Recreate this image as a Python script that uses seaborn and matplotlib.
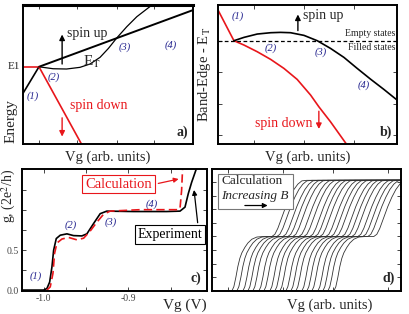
import numpy as np
import pandas as pd
import matplotlib
matplotlib.use("Agg")
from matplotlib import pyplot as plt
from matplotlib.patches import Rectangle
import seaborn as sns

# ---------------- panel a: energy vs Vg (arb. units) ----------------
a_e1_x = [0.0, 0.94]
a_e1_y = [5.56, 5.56]
a_low_x = [0.0, 0.94]
a_low_y = [3.65, 5.56]
a_up_x = [0.94, 10.0]
a_up_y = [5.56, 9.64]
a_down_x = [0.94, 3.44]
a_down_y = [5.56, 0.0]
a_et_x = [0.94, 1.77, 2.56, 3.35, 3.94, 4.53, 5.02, 5.51, 6.10, 6.69, 7.58]
a_et_y = [5.56, 5.42, 5.40, 5.52, 5.76, 6.24, 6.88, 7.63, 8.44, 9.16, 10.0]

# ---------------- panel b: band edge - E_T ----------------
b_down_x = [0.0, 0.89, 1.45, 2.19, 2.94, 3.68, 4.42, 5.17, 5.63, 6.28, 7.21]
b_down_y = [0.92, 0.0, -0.13, -0.33, -0.56, -0.83, -1.16, -1.63, -1.98, -2.43, -3.13]
b_up_x = [0.89, 1.45, 2.19, 2.94, 3.49, 4.05, 4.80, 5.54, 6.28, 7.03, 7.77, 8.51, 9.26, 10.0]
b_up_y = [0.0, 0.10, 0.20, 0.24, 0.25, 0.24, 0.16, 0.0, -0.23, -0.50, -0.83, -1.15, -1.46, -1.78]

# ---------------- panel c: conductance vs Vg (V) ----------------
c_exp_vg = [-1.0255, -1.0, -0.9961, -0.9929, -0.9902, -0.9882, -0.9851, -0.9804,
            -0.9725, -0.9647, -0.9549, -0.9490, -0.9412, -0.9333, -0.9255, -0.8941,
            -0.8549, -0.8392, -0.8333, -0.8294, -0.8255, -0.8196]
c_exp_g = [0.0, 0.0, 0.02, 0.10, 0.29, 0.50, 0.646, 0.688, 0.705, 0.683, 0.679,
           0.705, 0.833, 0.958, 0.99, 0.985, 0.985, 0.99, 1.04, 1.21, 1.35, 1.53]
c_calc_vg = [-0.9961, -0.9922, -0.9890, -0.9871, -0.9843, -0.9784, -0.9706, -0.9608,
             -0.9529, -0.9451, -0.9373, -0.9294, -0.9216, -0.8863, -0.8431, -0.8392,
             -0.8373, -0.8361]
c_calc_g = [0.0, 0.04, 0.21, 0.46, 0.59, 0.64, 0.66, 0.63, 0.65, 0.74, 0.85, 0.95,
            0.99, 1.008, 1.008, 1.02, 1.25, 1.53]

# ---------------- panel d: calculated traces for increasing B ----------------
d_base_x = [0, 20, 22, 24, 26, 28, 30, 33, 36, 40, 45, 52, 60, 63, 66, 70, 74, 78,
            82, 86, 90, 95, 300]
d_base_g = [0.0, 0.0, 0.08, 0.25, 0.45, 0.6, 0.7, 0.8, 0.88, 0.95, 0.99, 1.0, 1.0,
            1.04, 1.15, 1.35, 1.55, 1.72, 1.86, 1.96, 2.02, 2.03, 2.03]
d_shift = [0, 5, 11, 16, 21, 27, 32, 38, 43, 48, 54, 59, 64, 70, 75, 80, 86, 91, 96, 102]

label_blue = "#23238e"
red = "#e8161b"

sns.set_style("ticks")
plt.rcParams["font.family"] = ["Liberation Serif", "DejaVu Serif"]
plt.rcParams["mathtext.fontset"] = "stix"
plt.rcParams["xtick.direction"] = "in"
plt.rcParams["ytick.direction"] = "in"

fig = plt.figure(figsize=(4.09, 3.14), dpi=100)
ax_a = fig.add_axes([0.0562, 0.541, 0.416, 0.443])
ax_b = fig.add_axes([0.533, 0.541, 0.438, 0.443])
ax_c = fig.add_axes([0.0538, 0.0732, 0.452, 0.389])
ax_d = fig.add_axes([0.518, 0.0732, 0.462, 0.389])

for ax in (ax_a, ax_b, ax_c, ax_d):
    for s in ax.spines.values():
        s.set_linewidth(1.4)
        s.set_color("black")
    ax.tick_params(length=3, width=0.6, top=True, right=True, labelsize=7)

# ---- a ----
sns.lineplot(x=a_e1_x, y=a_e1_y, ax=ax_a, color=red, lw=1.2, sort=False)
sns.lineplot(x=a_low_x, y=a_low_y, ax=ax_a, color="black", lw=1.2, sort=False)
sns.lineplot(x=a_up_x, y=a_up_y, ax=ax_a, color="black", lw=1.4, sort=False)
sns.lineplot(x=a_down_x, y=a_down_y, ax=ax_a, color=red, lw=1.2, sort=False)
sns.lineplot(x=a_et_x, y=a_et_y, ax=ax_a, color="black", lw=0.9, sort=False)
ax_a.set_xlim(0, 10)
ax_a.set_ylim(0, 10)
ax_a.set_xticks([0.94, 3.2, 5.5, 7.7])
ax_a.set_yticks([])
ax_a.set_xticklabels([])
ax_a.spines["top"].set_linewidth(2.2)
ax_a.annotate("", xy=(2.3, 8.08), xytext=(2.3, 5.56),
              arrowprops=dict(arrowstyle="-|>", color="black", lw=1.0, mutation_scale=8))
ax_a.annotate("", xy=(2.3, 0.34), xytext=(2.3, 2.09),
              arrowprops=dict(arrowstyle="-|>", color=red, lw=1.0, mutation_scale=8))
ax_a.text(2.56, 7.96, "spin up", fontsize=10, va="center")
ax_a.text(3.54, 5.9, r"E$_{\rm T}$", fontsize=11, va="center")
ax_a.text(2.76, 2.81, "spin down", fontsize=10, va="center", color=red)
for txt, x, y in [("(1)", 0.59, 3.41), ("(2)", 1.81, 4.84), ("(3)", 6.0, 7.0), ("(4)", 8.66, 7.12)]:
    ax_a.text(x, y, txt, fontsize=7.5, style="italic", color=label_blue, ha="center", va="center")
ax_a.text(0.97, 0.04, "a)", transform=ax_a.transAxes, fontsize=10, weight="bold", ha="right", va="bottom")
ax_a.text(-0.02, 5.56, "E1", transform=ax_a.get_yaxis_transform(), fontsize=8, ha="right", va="center")
ax_a.set_xlabel("Vg (arb. units)", fontsize=10.5, labelpad=1)
fig.text(0.028, 0.545, "Energy", rotation=90, fontsize=11, ha="center", va="bottom")

# ---- b ----
sns.lineplot(x=b_down_x, y=b_down_y, ax=ax_b, color=red, lw=1.2, sort=False)
sns.lineplot(x=b_up_x, y=b_up_y, ax=ax_b, color="black", lw=1.2, sort=False)
ax_b.axhline(0, color="black", lw=0.9, ls=(0, (3, 2)))
ax_b.set_xlim(0, 10)
ax_b.set_ylim(-3.10, 1.07)
ax_b.set_xticks([2.0, 4.8, 7.6])
ax_b.set_yticks([-2.83, -1.9, -0.93, 0.0])
ax_b.set_xticklabels([])
ax_b.set_yticklabels([])
ax_b.annotate("", xy=(4.46, 0.87), xytext=(4.46, 0.22),
              arrowprops=dict(arrowstyle="-|>", color="black", lw=1.0, mutation_scale=8))
ax_b.annotate("", xy=(5.63, -2.73), xytext=(5.63, -2.03),
              arrowprops=dict(arrowstyle="-|>", color=red, lw=1.0, mutation_scale=8))
ax_b.text(4.76, 0.77, "spin up", fontsize=10, va="center")
ax_b.text(5.26, -2.48, "spin down", fontsize=10, va="center", ha="right", color=red)
ax_b.text(9.91, 0.22, "Empty states", fontsize=7, ha="right", va="center")
ax_b.text(9.91, -0.21, "Filled states", fontsize=7, ha="right", va="center")
for txt, x, y in [("(1)", 1.08, 0.74), ("(2)", 2.94, -0.23), ("(3)", 5.72, -0.33), ("(4)", 8.14, -1.33)]:
    ax_b.text(x, y, txt, fontsize=7.5, style="italic", color=label_blue, ha="center", va="center")
ax_b.text(0.97, 0.04, "b)", transform=ax_b.transAxes, fontsize=10, weight="bold", ha="right", va="bottom")
ax_b.set_xlabel("Vg (arb. units)", fontsize=10.5, labelpad=1)
ax_b.set_ylabel(r"Band-Edge - E$_{\rm T}$", fontsize=10.5, labelpad=0)

# ---- c ----
sns.lineplot(x=c_exp_vg, y=c_exp_g, ax=ax_c, color="black", lw=1.2, sort=False)
sns.lineplot(x=c_calc_vg, y=c_calc_g, ax=ax_c, color=red, lw=1.2, sort=False, dashes=False,
             linestyle=(0, (5, 2.5)))
ax_c.set_xlim(-1.0255, -0.8075)
ax_c.set_ylim(-0.012, 1.52)
ax_c.set_xticks([-1.0, -0.9])
ax_c.set_xticklabels(["-1.0", "-0.9"])
ax_c.set_xticks([-0.95, -0.85], minor=True)
ax_c.set_yticks([0.0, 0.25, 0.5, 0.75, 1.0, 1.25])
ax_c.set_yticklabels(["0.0", "", "0.5", "", "", ""])
ax_c.tick_params(which="both", length=3, width=0.6, top=True, right=True, labelsize=7,
                 labelcolor="#444444", pad=2)
ax_c.text(-0.9118, 1.33, "Calculation", fontsize=10.5, color=red, ha="center", va="center",
          bbox=dict(boxstyle="square,pad=0.2", fc="white", ec=red, lw=0.8))
ax_c.annotate("", xy=(-0.8376, 1.40), xytext=(-0.8680, 1.33),
              arrowprops=dict(arrowstyle="-|>", color=red, lw=0.9, mutation_scale=7))
ax_c.text(-0.8506, 0.70, "Experiment", fontsize=10, color="black", ha="center", va="center",
          bbox=dict(boxstyle="square,pad=0.2", fc="white", ec="black", lw=0.8))
ax_c.annotate("", xy=(-0.8230, 1.29), xytext=(-0.8180, 0.81),
              arrowprops=dict(arrowstyle="-|>", color="black", lw=0.9, mutation_scale=7))
for txt, x, y in [("(1)", -1.0094, 0.17), ("(2)", -0.968, 0.81), ("(3)", -0.921, 0.85),
                  ("(4)", -0.872, 1.08)]:
    ax_c.text(x, y, txt, fontsize=7.5, style="italic", color=label_blue, ha="center", va="center")
ax_c.text(0.97, 0.05, "c)", transform=ax_c.transAxes, fontsize=10, weight="bold", ha="right", va="bottom")
ax_c.text(1.0, -0.06, "Vg (V)", transform=ax_c.transAxes, fontsize=11, ha="right", va="top")
fig.text(0.022, 0.462, r"g, (2e$^2$/h)", rotation=90, fontsize=10, ha="center", va="top")

# ---- d ----
rows = []
for i, sh in enumerate(d_shift):
    for x, g in zip(d_base_x, d_base_g):
        rows.append({"curve": i, "x": x + sh, "g": g})
df_d = pd.DataFrame(rows)
sns.lineplot(data=df_d, x="x", y="g", units="curve", estimator=None, sort=False,
             ax=ax_d, color="#333333", lw=0.6)
ax_d.set_xlim(0, 189)
ax_d.set_ylim(0, 2.24)
ax_d.set_xticks([16, 71, 121, 176])
ax_d.set_yticks([0.25, 0.5, 0.75, 1.0, 1.25, 1.5, 1.75, 2.0])
ax_d.set_xticklabels([])
ax_d.set_yticklabels([])
ax_d.set_xlabel("")
ax_d.set_ylabel("")
ax_d.add_patch(Rectangle((0.03, 0.67), 0.4, 0.29, transform=ax_d.transAxes, fc="white",
                         ec="#777777", lw=0.8, zorder=5))
ax_d.text(0.05, 0.9, "Calculation", transform=ax_d.transAxes, fontsize=9.5, va="center", zorder=6)
ax_d.text(0.05, 0.78, "Increasing B", transform=ax_d.transAxes, fontsize=9.5, style="italic",
          va="center", zorder=6)
ax_d.annotate("", xy=(0.31, 0.7), xytext=(0.16, 0.7), xycoords="axes fraction",
              arrowprops=dict(arrowstyle="-|>", color="black", lw=0.9, mutation_scale=7), zorder=6)
ax_d.text(0.97, 0.05, "d)", transform=ax_d.transAxes, fontsize=10, weight="bold", ha="right", va="bottom")
fig.text(0.807, 0.005, "Vg (arb. units)", fontsize=10.5, ha="center", va="bottom")

for ax in (ax_a, ax_b, ax_c, ax_d):
    leg = ax.get_legend()
    if leg is not None:
        leg.remove()

fig.savefig("out.png", dpi=100)
